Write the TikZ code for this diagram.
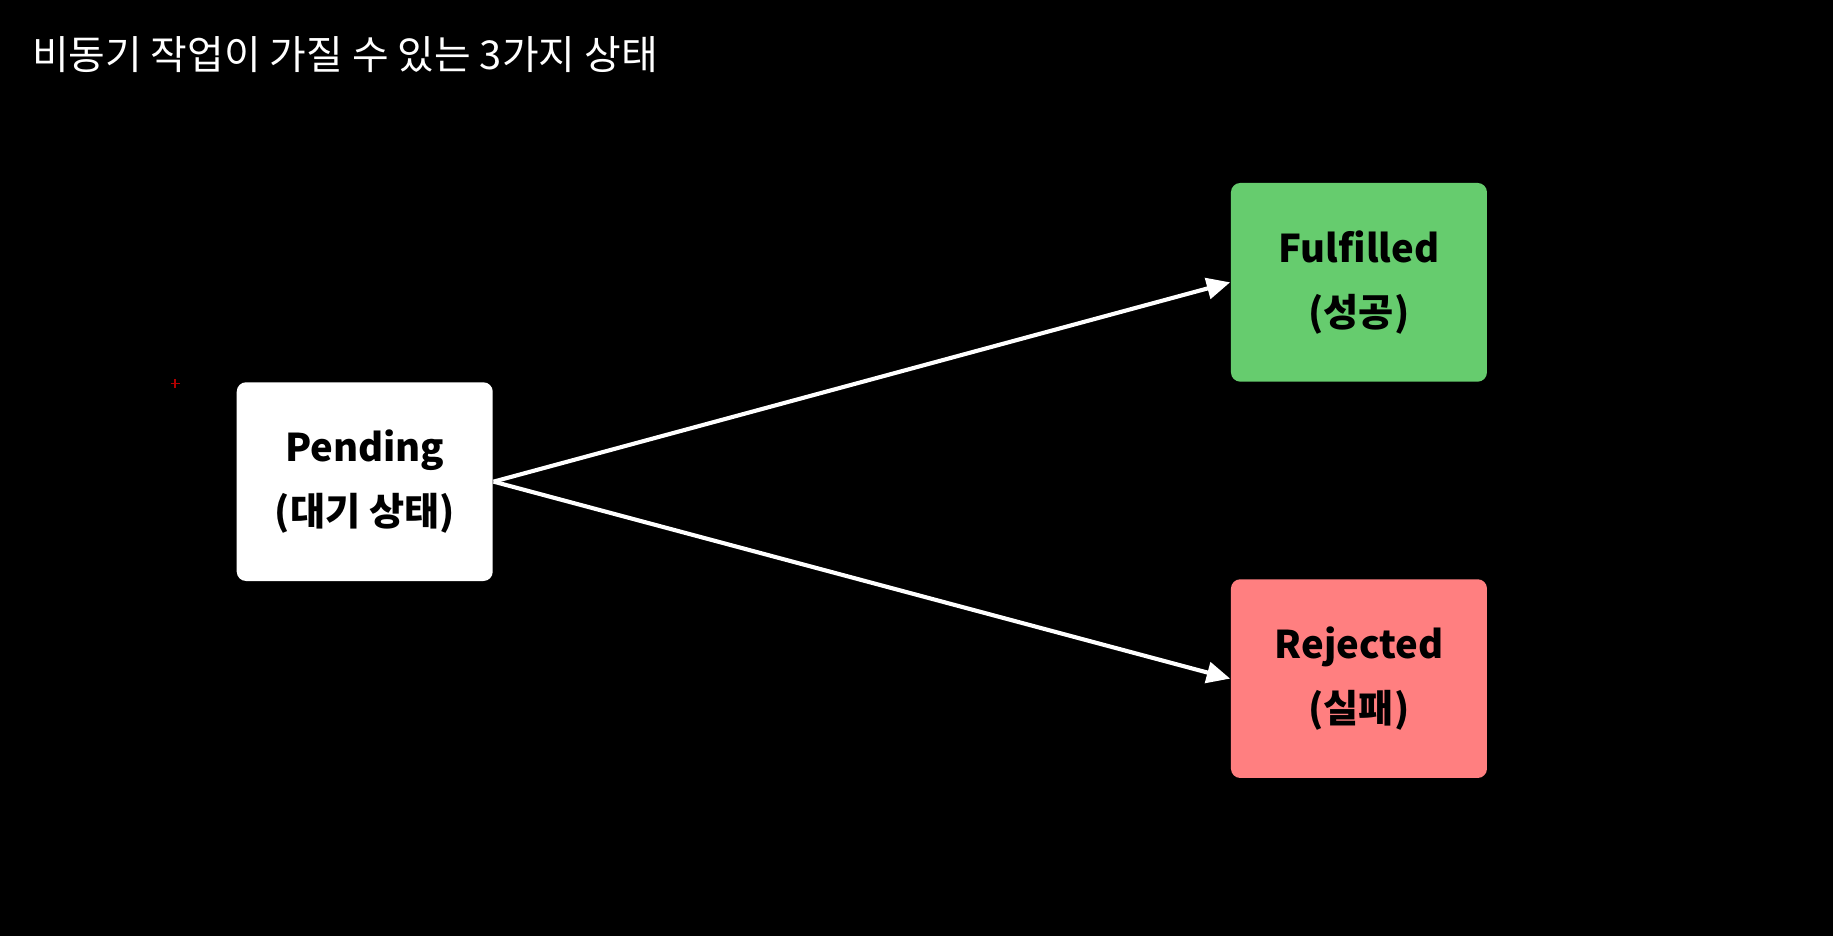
\documentclass[tikz,border=0pt]{standalone}
\usepackage{fontspec}
\setmainfont{Noto Sans CJK KR}
\usetikzlibrary{arrows.meta,positioning}
\definecolor{okgreen}{HTML}{66CC6E}
\definecolor{badred}{HTML}{FF7F80}
\tikzset{
  state/.style={rounded corners=0.8mm, minimum width=21.9mm, minimum height=17mm,
    align=center, font=\fontsize{9.3}{15.6}\selectfont\bfseries, text=black,
    execute at begin node=\rule{0pt}{17pt}},
  flow/.style={draw=white, line width=0.35mm, -{Triangle[length=2mm,width=1.8mm]}}
}
\begin{document}
\begin{tikzpicture}[x=0.1mm,y=-0.1mm]
\fill[black] (0,0) rectangle (1568,801);
%%% title
\node[anchor=west, text=white, font=\fontsize{9.7}{12}\selectfont] (title) at (15,47)
  {비동기 작업이 가질 수 있는 3가지 상태};
\draw[red!70!black, line width=0.15mm] (146,328) -- (154,328) (150,324) -- (150,332);
%%% states
\node[state, fill=white] (pending) at (312,412) {Pending\\(대기 상태)};
\node[state, fill=okgreen] (ok) at (1162.5,241.5) {Fulfilled\\(성공)};
\node[state, fill=badred] (fail) at (1162.5,580.5) {Rejected\\(실패)};
%
\draw[flow] (pending.east) -- (ok.west);
\draw[flow] (pending.east) -- (fail.west);
\end{tikzpicture}
\end{document}
